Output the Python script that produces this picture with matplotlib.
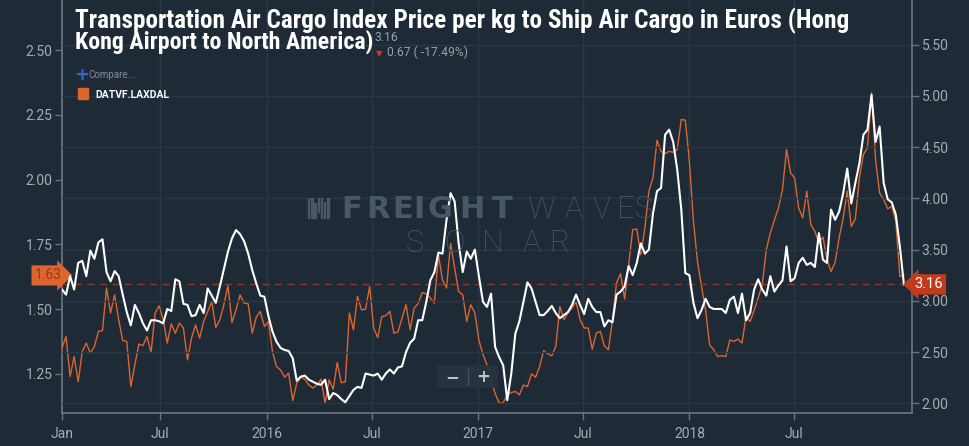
import numpy as np
import pandas as pd
import matplotlib
matplotlib.use('Agg')
import matplotlib.pyplot as plt
import matplotlib.dates as mdates
import matplotlib.transforms as mtransforms
from matplotlib.patches import FancyBboxPatch, Rectangle

plt.rcParams['font.family'] = ['Roboto', 'DejaVu Sans']

# weekly points, Jan 2015 - Jan 2019
dates = pd.date_range('2015-01-12', periods=209, freq='7D')

# white line, right axis (EUR / kg, HKG -> North America)
hkg_na = [
    3.11, 3.06, 3.24, 3.11, 3.37, 3.39, 3.24, 3.49, 3.41, 3.57,
    3.60, 3.28, 3.19, 3.29, 3.24, 3.06, 2.89, 2.76, 2.96, 2.88,
    2.78, 2.71, 2.81, 2.81, 2.80, 2.78, 2.92, 2.90, 3.21, 3.19,
    2.97, 2.96, 2.85, 2.86, 2.96, 2.88, 3.12, 3.05, 2.98, 3.14,
    3.31, 3.48, 3.61, 3.69, 3.65, 3.58, 3.46, 3.30, 3.17, 3.05,
    3.04, 2.85, 2.70,
    2.60, 2.54, 2.52, 2.51, 2.44, 2.22, 2.26, 2.27, 2.23, 2.21,
    2.19, 2.18, 2.23, 2.04, 2.10, 2.08, 2.04, 2.01, 2.07, 2.13,
    2.16, 2.15, 2.29, 2.28, 2.27, 2.29, 2.23, 2.29, 2.33, 2.29,
    2.35, 2.36, 2.50, 2.59, 2.63, 2.81, 2.81, 2.99, 3.20, 3.28,
    3.47, 3.46, 3.79, 4.05, 3.97, 3.56, 3.28, 3.48, 3.41, 3.50,
    3.24, 2.99,
    2.94, 3.07, 2.55, 2.45, 2.37, 2.03, 2.29, 2.68, 2.80, 2.99,
    3.18, 3.12, 2.99, 2.86, 2.86, 2.90, 2.95, 2.88, 2.83, 2.86,
    2.89, 2.96, 3.06, 2.96, 2.87, 3.02, 2.94, 2.89, 2.89, 2.75,
    2.81, 2.79, 3.06, 3.09, 3.14, 3.34, 3.25, 3.37, 3.56, 3.46,
    3.50, 3.85, 4.07, 4.10, 4.62, 4.67, 4.55, 4.28, 3.89, 3.27,
    3.25, 2.98, 2.83,
    2.91, 3.02, 2.94, 2.92, 2.92, 2.92, 2.88, 3.01, 3.04, 2.88,
    3.07, 2.81, 2.88, 3.11, 3.21, 3.11, 3.05, 3.24, 3.09, 3.15,
    3.20, 3.53, 3.19, 3.22, 3.37, 3.42, 3.35, 3.37, 3.33, 3.66,
    3.40, 3.37, 3.89, 3.79, 3.87, 4.05, 4.29, 3.95, 4.15, 4.34,
    4.62, 4.67, 5.01, 4.55, 4.70, 4.15, 3.99, 3.96, 3.84, 3.53,
    3.16,
]

# orange line, left axis (DATVF.LAXDAL)
laxdal = [
    1.350, 1.394, 1.240, 1.317, 1.220, 1.336, 1.369, 1.330, 1.356, 1.414,
    1.417, 1.581, 1.485, 1.555, 1.459, 1.379, 1.375, 1.201, 1.285, 1.365,
    1.359, 1.394, 1.332, 1.485, 1.513, 1.459, 1.369, 1.443, 1.407, 1.446,
    1.427, 1.304, 1.388, 1.439, 1.388, 1.452, 1.491, 1.529, 1.429, 1.459,
    1.517, 1.590, 1.448, 1.497, 1.555, 1.523, 1.521, 1.407, 1.469, 1.491,
    1.433, 1.452, 1.336,
    1.278, 1.265, 1.237, 1.253, 1.147, 1.214, 1.237, 1.229, 1.207, 1.195,
    1.207, 1.229, 1.137, 1.227, 1.191, 1.294, 1.216, 1.219, 1.485, 1.420,
    1.549, 1.497, 1.500, 1.587, 1.427, 1.390, 1.471, 1.475, 1.491, 1.407,
    1.412, 1.465, 1.517, 1.420, 1.504, 1.521, 1.564, 1.559, 1.543, 1.523,
    1.710, 1.613, 1.581, 1.753, 1.659, 1.568, 1.555, 1.452, 1.517, 1.485,
    1.380, 1.325,
    1.285, 1.227, 1.175, 1.137, 1.139, 1.169, 1.178, 1.182, 1.169, 1.207,
    1.201, 1.250, 1.237, 1.278, 1.340, 1.327, 1.320, 1.356, 1.510, 1.459,
    1.485, 1.504, 1.529, 1.459, 1.427, 1.427, 1.345, 1.407, 1.414, 1.358,
    1.343, 1.459, 1.601, 1.637, 1.539, 1.671, 1.807, 1.809, 1.710, 1.813,
    1.955, 2.006, 2.152, 2.109, 2.100, 2.109, 2.105, 2.116, 2.232, 2.229,
    2.070, 1.839, 1.684,
    1.587, 1.497, 1.362, 1.343, 1.317, 1.320, 1.317, 1.381, 1.375, 1.384,
    1.369, 1.471, 1.452, 1.495, 1.543, 1.594, 1.729, 1.794, 1.843, 1.890,
    1.961, 2.116, 2.026, 2.006, 1.890, 1.852, 1.955, 1.826, 1.800, 1.755,
    1.778, 1.691, 1.645, 1.680, 1.775, 1.852, 1.955, 1.819, 1.848, 2.006,
    2.097, 2.122, 2.335, 2.077, 1.948, 1.923, 1.887, 1.897, 1.839, 1.626,
    1.630,
]

left_ticks = [1.25, 1.50, 1.75, 2.00, 2.25, 2.50]
right_ticks = [2.00, 2.50, 3.00, 3.50, 4.00, 4.50, 5.00, 5.50]
x_tick_dates = [dates[0], '2015-07-01', '2016-01-01', '2016-07-01',
                '2017-01-01', '2017-07-01', '2018-01-01', '2018-07-01']
x_tick_labels = ['Jan', 'Jul', '2016', 'Jul', '2017', 'Jul', '2018', 'Jul']

title1 = 'Transportation Air Cargo Index Price per kg to Ship Air Cargo in Euros (Hong'
title2 = 'Kong Airport to North America)'
last_val = hkg_na[-1]
change = '0.67 ( -17.49%)'

BG = '#1e2a36'
GRID = '#2a3745'
SPINE = '#68727c'
TICKC = '#a7acb2'
ORANGE = '#dc6530'
W, H = 970, 446


def fx(px):
    return px / W


def fy(py):
    return 1 - py / H


fig = plt.figure(figsize=(W / 100, H / 100), dpi=100, facecolor=BG)
ax = fig.add_axes([fx(62), fy(413), 850 / W, 413 / H])
ax.set_facecolor(BG)
ax2 = ax.twinx()

# watermark
wm = '#4a5764'
for xx, ch in zip([351.5, 378.5, 403, 419, 440, 471.5, 502], 'FREIGHT'):
    fig.text(fx(xx), fy(218), ch, family='DejaVu Sans', weight='heavy',
             size=22, color=wm, ha='center', va='baseline', zorder=0)
for xx, ch in zip([541, 574, 601.5, 626, 644], 'WAVES'):
    fig.text(fx(xx), fy(218), ch, family='Roboto', weight='light',
             size=22, color=wm, ha='center', va='baseline', zorder=0)
for xx, ch in zip([415, 455, 493, 531.5, 559], 'SONAR'):
    fig.text(fx(xx), fy(251.5), ch, family='Roboto', weight='light',
             size=22, color=wm, ha='center', va='baseline', zorder=0)
for k, (top, bot) in enumerate([(198, 218), (198, 218), (203, 218), (198, 212),
                                (198, 218), (202, 218), (198, 218)]):
    fig.patches.append(Rectangle((fx(308 + k * 3.2), fy(bot)), 1.5 / W,
                                 (bot - top) / H, transform=fig.transFigure,
                                 color=wm, zorder=0))

ax.plot(dates, laxdal, color=ORANGE, lw=1.0, zorder=3)
ax2.plot(dates, hkg_na, color='white', lw=1.5, zorder=4)
ax2.axhline(last_val, color='#8a3a2b', lw=1.0, ls=(0, (5, 4)), zorder=2)

ax.set_xlim(dates[0], pd.Timestamp('2019-01-21'))
ax.set_ylim(1.099, 2.693)
ax2.set_ylim(1.905, 5.935)

ax.set_xticks([mdates.date2num(pd.Timestamp(d)) for d in x_tick_dates])
ax.set_xticklabels(x_tick_labels)
ax.set_yticks(left_ticks)
ax.set_yticklabels([f'{v:.2f}' for v in left_ticks])
ax2.set_yticks(right_ticks)
ax2.set_yticklabels([f'{v:.2f}' for v in right_ticks])

ax.grid(axis='x', color=GRID, lw=1)
ax2.grid(axis='y', color=GRID, lw=1)
ax.set_axisbelow(True)
ax2.set_axisbelow(True)

for a in (ax, ax2):
    for s in a.spines.values():
        s.set_visible(False)
ax.spines['left'].set_visible(True)
ax.spines['bottom'].set_visible(True)
ax2.spines['right'].set_visible(True)
for s in (ax.spines['left'], ax.spines['bottom'], ax2.spines['right']):
    s.set_color(SPINE)
    s.set_linewidth(1.3)

ax.tick_params(axis='y', length=5, width=1, color=SPINE, labelcolor=TICKC,
               labelsize=10, pad=2)
ax.tick_params(axis='x', length=5, width=1, color=SPINE, labelcolor=TICKC,
               labelsize=10, pad=5)
ax2.tick_params(axis='y', length=5, width=1, color=SPINE, labelcolor=TICKC,
                labelsize=10, pad=2)

# value flags on both axes
tr_r = mtransforms.blended_transform_factory(ax2.transAxes, ax2.transData)
ax2.text(1.0195, last_val, f'{last_val:.2f}', transform=tr_r, color='white',
         size=10.5, ha='center', va='center', clip_on=False, zorder=10,
         bbox=dict(boxstyle='larrow,pad=0.22', fc='#c23a1c', ec='none'))
tr_l = mtransforms.blended_transform_factory(ax.transAxes, ax.transData)
ax.text(-0.0165, laxdal[-1], f'{laxdal[-1]:.2f}', transform=tr_l,
        color='#9e3814', size=10, ha='center', va='center', clip_on=False,
        zorder=10, bbox=dict(boxstyle='rarrow,pad=0.22', fc=ORANGE, ec='none'))

# title and header
title_font = ['Roboto Condensed', 'Liberation Sans Narrow', 'Roboto', 'DejaVu Sans']
fig.text(fx(75), fy(28), title1, family=title_font, weight='bold', size=18.2,
         color='white', va='baseline')
fig.text(fx(75), fy(49), title2, family=title_font, weight='bold', size=17.2,
         color='white', va='baseline')
fig.text(fx(375), fy(41), f'{last_val:.2f}', size=8.7, color='#9aa0a7',
         va='baseline')
fig.text(fx(376), fy(56), '\u25bc', family='DejaVu Sans', size=6,
         color='#e0302a', va='baseline')
fig.text(fx(387), fy(56.5), change, size=8.7, color='#9aa0a7', va='baseline')

fig.text(fx(74), fy(80), '+', family='DejaVu Sans', weight='bold', size=13,
         color='#2e68cc', va='baseline')
fig.text(fx(88), fy(78.5), 'Compare...', size=7, color='#858d96', va='baseline')
fig.patches.append(Rectangle((fx(78), fy(99)), 10 / W, 11 / H,
                             transform=fig.transFigure, color=ORANGE))
fig.text(fx(95), fy(98), 'DATVF.LAXDAL', weight='bold', size=7.5,
         color='white', va='baseline')

# zoom buttons
fig.patches.append(FancyBboxPatch((fx(437), fy(388)), 61 / W, 23 / H,
                                  boxstyle='round,pad=0,rounding_size=0.005',
                                  transform=fig.transFigure, fc='#27333f',
                                  ec='none', alpha=0.95, zorder=20))
fig.text(fx(452), fy(377), '\u2212', family='DejaVu Sans', weight='bold',
         size=12, color='#bfc4c9', ha='center', va='center', zorder=21)
fig.text(fx(483), fy(377), '+', family='DejaVu Sans', weight='bold',
         size=12, color='#bfc4c9', ha='center', va='center', zorder=21)
fig.lines.append(plt.Line2D([fx(468), fx(468)], [fy(369), fy(385)],
                            transform=fig.transFigure, color='#44505c',
                            lw=1, zorder=21))

fig.savefig('out.png', dpi=100, facecolor=BG)
